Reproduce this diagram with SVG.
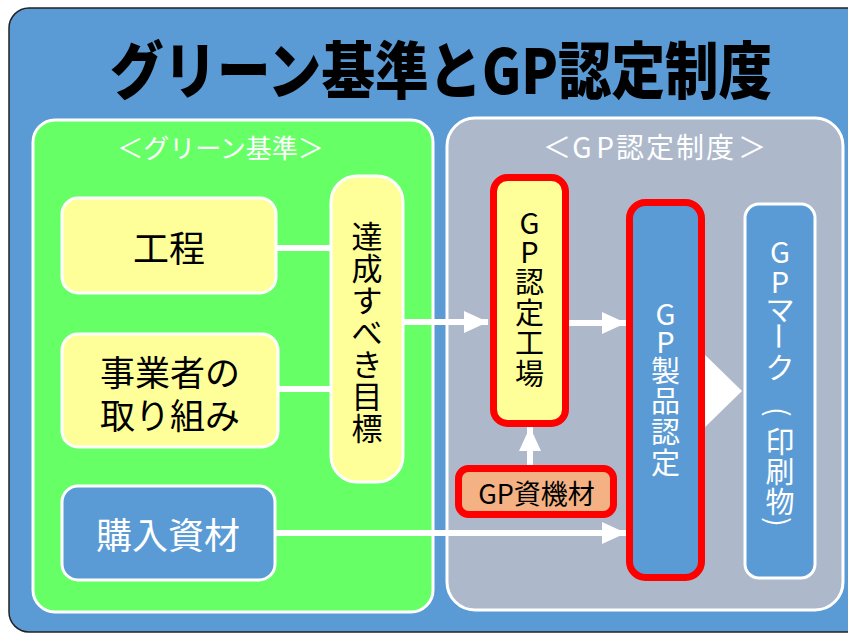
<svg xmlns="http://www.w3.org/2000/svg" width="848" height="634" viewBox="0 0 848 634">
<defs>
<style>
text{font-family:"Noto Sans CJK JP","Noto Sans",sans-serif;dominant-baseline:central;text-anchor:middle}
.title{font-size:62px;font-weight:900;fill:#000}
.lbl{fill:#fff}
.yel{fill:#FFFF99;stroke:#fff;stroke-width:3}
.blu{fill:#5B9BD5;stroke:#fff;stroke-width:3}
.redY{fill:#FFFF99;stroke:#FF0000;stroke-width:7}
.redB{fill:#5B9BD5;stroke:#FF0000;stroke-width:7}
.redO{fill:#F4B183;stroke:#FF0000;stroke-width:7}
.bt{fill:#000}
.wt{fill:#fff}
.conn{stroke:#fff;stroke-width:6;fill:none}
</style>
<marker id="ah" markerUnits="userSpaceOnUse" markerWidth="24" markerHeight="22" refX="24" refY="11" orient="auto">
<path d="M0,0 L24,11 L0,22 z" fill="#fff"/>
</marker>
</defs>

<rect id="frame" x="9" y="8" width="870" height="624" rx="20" fill="#5B9BD5" stroke="#222" stroke-width="1.5"/>
<text class="title" x="441" y="67" textLength="662" lengthAdjust="spacingAndGlyphs">グリーン基準とGP認定制度</text>

<g id="green-panel">
<rect x="33" y="120" width="400" height="492" rx="22" fill="#66FF66" stroke="#fff" stroke-width="3"/>
<text class="lbl" x="220.5" y="146" font-size="26">＜グリーン基準＞</text>
</g>
<g id="gp-panel">
<rect x="447" y="118" width="396" height="492" rx="28" fill="#ADB9CA" stroke="#fff" stroke-width="3"/>
<text class="lbl" x="557 582 605 630 660 690 720 752" y="146" font-size="28">＜GP認定制度＞</text>
</g>

<g id="connectors">
<line class="conn" x1="276" y1="248" x2="333" y2="248"/>
<line class="conn" x1="278" y1="389" x2="333" y2="389"/>
<line class="conn" x1="403" y1="322" x2="488" y2="322" marker-end="url(#ah)"/>
<line class="conn" x1="569" y1="323" x2="626" y2="323" marker-end="url(#ah)"/>
<line class="conn" x1="275" y1="533" x2="626" y2="533" marker-end="url(#ah)"/>
<line class="conn" x1="530" y1="466" x2="530" y2="427" marker-end="url(#ah)"/>
<polygon points="700,350 742,391 700,432" fill="#fff"/>
</g>

<g id="koutei">
<rect class="yel" x="62" y="198" width="214" height="95" rx="16"/>
<text class="bt" x="169" y="246" font-size="36">工程</text>
</g>

<g id="jigyousha">
<rect class="yel" x="62" y="334" width="216" height="113" rx="16"/>
<text class="bt" x="170" y="370" font-size="35">事業者の</text>
<text class="bt" x="170" y="413" font-size="35">取り組み</text>
</g>

<g id="kounyu">
<rect class="blu" x="62" y="486" width="213" height="94" rx="16"/>
<text class="wt" x="168" y="533" font-size="36">購入資材</text>
</g>

<g id="mokuhyou" font-size="31">
<rect class="yel" x="331" y="176" width="72" height="306" rx="26"/>
<text class="bt" x="367" y="234">達</text>
<text class="bt" x="367" y="266">成</text>
<text class="bt" x="367" y="298">す</text>
<text class="bt" x="367" y="330">べ</text>
<text class="bt" x="367" y="362">き</text>
<text class="bt" x="367" y="394">目</text>
<text class="bt" x="367" y="426">標</text>
</g>

<g id="gp-koujou" font-size="29">
<rect class="redY" x="493.5" y="177.5" width="72" height="246" rx="14"/>
<text class="bt" x="529.5" y="221">G</text>
<text class="bt" x="529.5" y="250">P</text>
<text class="bt" x="529.5" y="280">認</text>
<text class="bt" x="529.5" y="311">定</text>
<text class="bt" x="529.5" y="341">工</text>
<text class="bt" x="529.5" y="372">場</text>
</g>

<g id="gp-shikizai">
<rect class="redO" x="458.5" y="468.5" width="155" height="46" rx="10"/>
<text class="bt" x="536.5" y="492" font-size="27">GP資機材</text>
</g>

<g id="gp-seihin" font-size="29">
<rect class="redB" x="629.5" y="202.5" width="72" height="375" rx="16"/>
<text class="wt" x="665.5" y="312">G</text>
<text class="wt" x="665.5" y="340">P</text>
<text class="wt" x="665.5" y="369">製</text>
<text class="wt" x="665.5" y="399">品</text>
<text class="wt" x="665.5" y="430">認</text>
<text class="wt" x="665.5" y="461">定</text>
</g>

<g id="gp-mark" font-size="29">
<rect class="blu" x="745" y="204" width="70" height="374" rx="14"/>
<text class="wt" x="780" y="250">G</text>
<text class="wt" x="780" y="280">P</text>
<text class="wt" x="780" y="308">マ</text>
<text class="wt" x="780" y="336" transform="rotate(90 780 336)">ー</text>
<text class="wt" x="780" y="366">ク</text>
<text class="wt" x="780" y="412" transform="rotate(90 780 412)">(</text>
<text class="wt" x="780" y="440">印</text>
<text class="wt" x="780" y="470">刷</text>
<text class="wt" x="780" y="500">物</text>
<text class="wt" x="780" y="522" transform="rotate(90 780 522)">)</text>
</g>
</svg>
